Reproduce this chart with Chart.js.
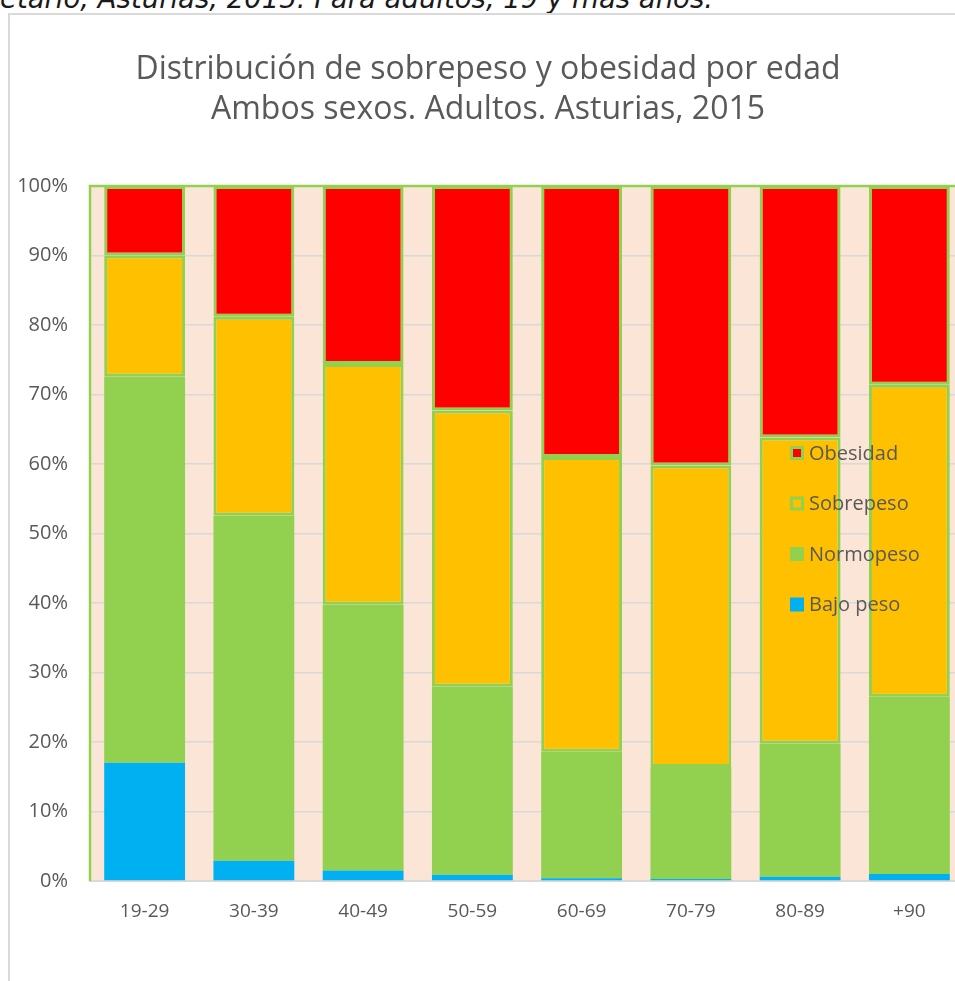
<!DOCTYPE html>
<html>
<head>
<meta charset="utf-8">
<script src="https://cdn.jsdelivr.net/npm/chart.js@4.4.1/dist/chart.umd.min.js"></script>
<style>
  html, body { margin: 0; padding: 0; background: #fff; overflow: hidden; width: 955px; height: 981px; }
  #caption { position: absolute; left: 0; top: -15px; font: italic 27.5px "DejaVu Sans", sans-serif; color: #1a1a1a; white-space: nowrap; line-height: 1; }
  #frame { position: absolute; left: 8px; top: 13px; width: 1200px; height: 1200px; border-left: 2px solid #D9D9D9; border-top: 2px solid #D9D9D9; }
  #chart { position: absolute; left: 0; top: 0; }
</style>
</head>
<body>
<div id="caption">etario, Asturias, 2015. Para adultos, 19 y más años.</div>
<div id="frame"></div>
<canvas id="chart" width="980" height="981"></canvas>
<script>
// --- Sobrepeso y obesidad por edad, Asturias 2015 ---

const edades = ['19-29', '30-39', '40-49', '50-59', '60-69', '70-79', '80-89', '+90'];

// porcentajes (cada columna suma 100)
const bajoPeso  = [17.0, 2.9, 1.5, 0.9, 0.4, 0.3, 0.6, 1.0];
const normopeso = [55.6, 49.7, 38.3, 27.1, 18.2, 16.1, 19.2, 25.5];
const sobrepeso = [17.4, 28.6, 34.6, 39.7, 42.4, 43.4, 44.0, 44.9];
const obesidad  = [10.0, 18.8, 25.6, 32.3, 39.0, 40.2, 36.2, 28.6];

const yTicks = [0, 10, 20, 30, 40, 50, 60, 70, 80, 90, 100];

const GREEN = '#92D050';
const TEXT = '#595959';
const FONT = '"Open Sans", sans-serif';

// fondo del área de trazado
const plotBg = {
    id: 'plotBg',
    beforeDraw(chart) {
        const { ctx, chartArea: a } = chart;
        ctx.save();
        ctx.fillStyle = '#FBE5D6';
        ctx.fillRect(a.left, a.top, a.right - a.left, a.bottom - a.top);
        ctx.restore();
    },
    afterDatasetsDraw(chart) {
        const { ctx, chartArea: a } = chart;
        ctx.save();
        ctx.strokeStyle = GREEN;
        ctx.lineWidth = 2.5;
        ctx.beginPath();
        ctx.moveTo(a.left, a.bottom);
        ctx.lineTo(a.left, a.top);
        ctx.lineTo(a.right, a.top);
        ctx.lineTo(a.right, a.bottom);
        ctx.stroke();
        ctx.restore();
    }
};

// leyenda dentro del área (orden inverso, como en Excel)
const innerLegend = {
    id: 'innerLegend',
    afterDraw(chart) {
        const ctx = chart.ctx;
        const x = 790, y0 = 453, step = 50.5, box = 14;
        ctx.save();
        ctx.font = '20px ' + FONT;
        ctx.textBaseline = 'middle';
        const sets = chart.data.datasets.slice().reverse();
        sets.forEach((ds, i) => {
            const y = y0 + i * step;
            ctx.fillStyle = ds.backgroundColor;
            ctx.fillRect(x, y - box / 2, box, box);
            if (ds.borderWidth) {
                ctx.strokeStyle = ds.borderColor;
                ctx.lineWidth = 3;
                ctx.strokeRect(x + 1.5, y - box / 2 + 1.5, box - 3, box - 3);
            }
            ctx.fillStyle = TEXT;
            ctx.fillText(ds.label, x + 19, y + 1);
        });
        ctx.restore();
    }
};

const common = { barPercentage: 0.74, categoryPercentage: 1, borderSkipped: false };

new Chart(document.getElementById('chart'), {
    type: 'bar',
    data: {
        labels: edades,
        datasets: [
            { label: 'Bajo peso', data: bajoPeso, backgroundColor: '#00B0F0', borderWidth: 0, ...common },
            { label: 'Normopeso', data: normopeso, backgroundColor: GREEN, borderWidth: 0, ...common },
            { label: 'Sobrepeso', data: sobrepeso, backgroundColor: '#FFC000', borderColor: GREEN, borderWidth: 3, ...common },
            { label: 'Obesidad', data: obesidad, backgroundColor: '#FF0000', borderColor: GREEN, borderWidth: 3, ...common }
        ]
    },
    options: {
        responsive: false,
        animation: false,
        devicePixelRatio: 1,
        layout: { padding: { left: 12, right: 16, top: 0, bottom: 0 } },
        plugins: {
            legend: { display: false },
            tooltip: { enabled: false },
            title: {
                display: true,
                text: ['Distribución de sobrepeso y obesidad por edad', 'Ambos sexos. Adultos. Asturias, 2015'],
                color: TEXT,
                font: { family: FONT, size: 32, weight: 'normal', lineHeight: 1.25 },
                padding: { top: 50, bottom: 56 }
            }
        },
        scales: {
            x: {
                stacked: true,
                grid: { display: false, drawTicks: false },
                border: { color: '#D9D9D9', width: 2 },
                ticks: { color: TEXT, font: { family: FONT, size: 19 }, padding: 19 },
                afterFit(s) { s.height = 100; }
            },
            y: {
                stacked: true,
                min: 0,
                max: 100,
                afterBuildTicks(s) { s.ticks = yTicks.map(v => ({ value: v })); },
                grid: { color: '#D9D9D9', lineWidth: 1.5, drawTicks: false },
                border: { display: false },
                ticks: { color: TEXT, font: { family: FONT, size: 20 }, padding: 22, callback: v => v + '%' },
                afterFit(s) { s.width = 78; }
            }
        }
    },
    plugins: [plotBg, innerLegend]
});
</script>
</body>
</html>
